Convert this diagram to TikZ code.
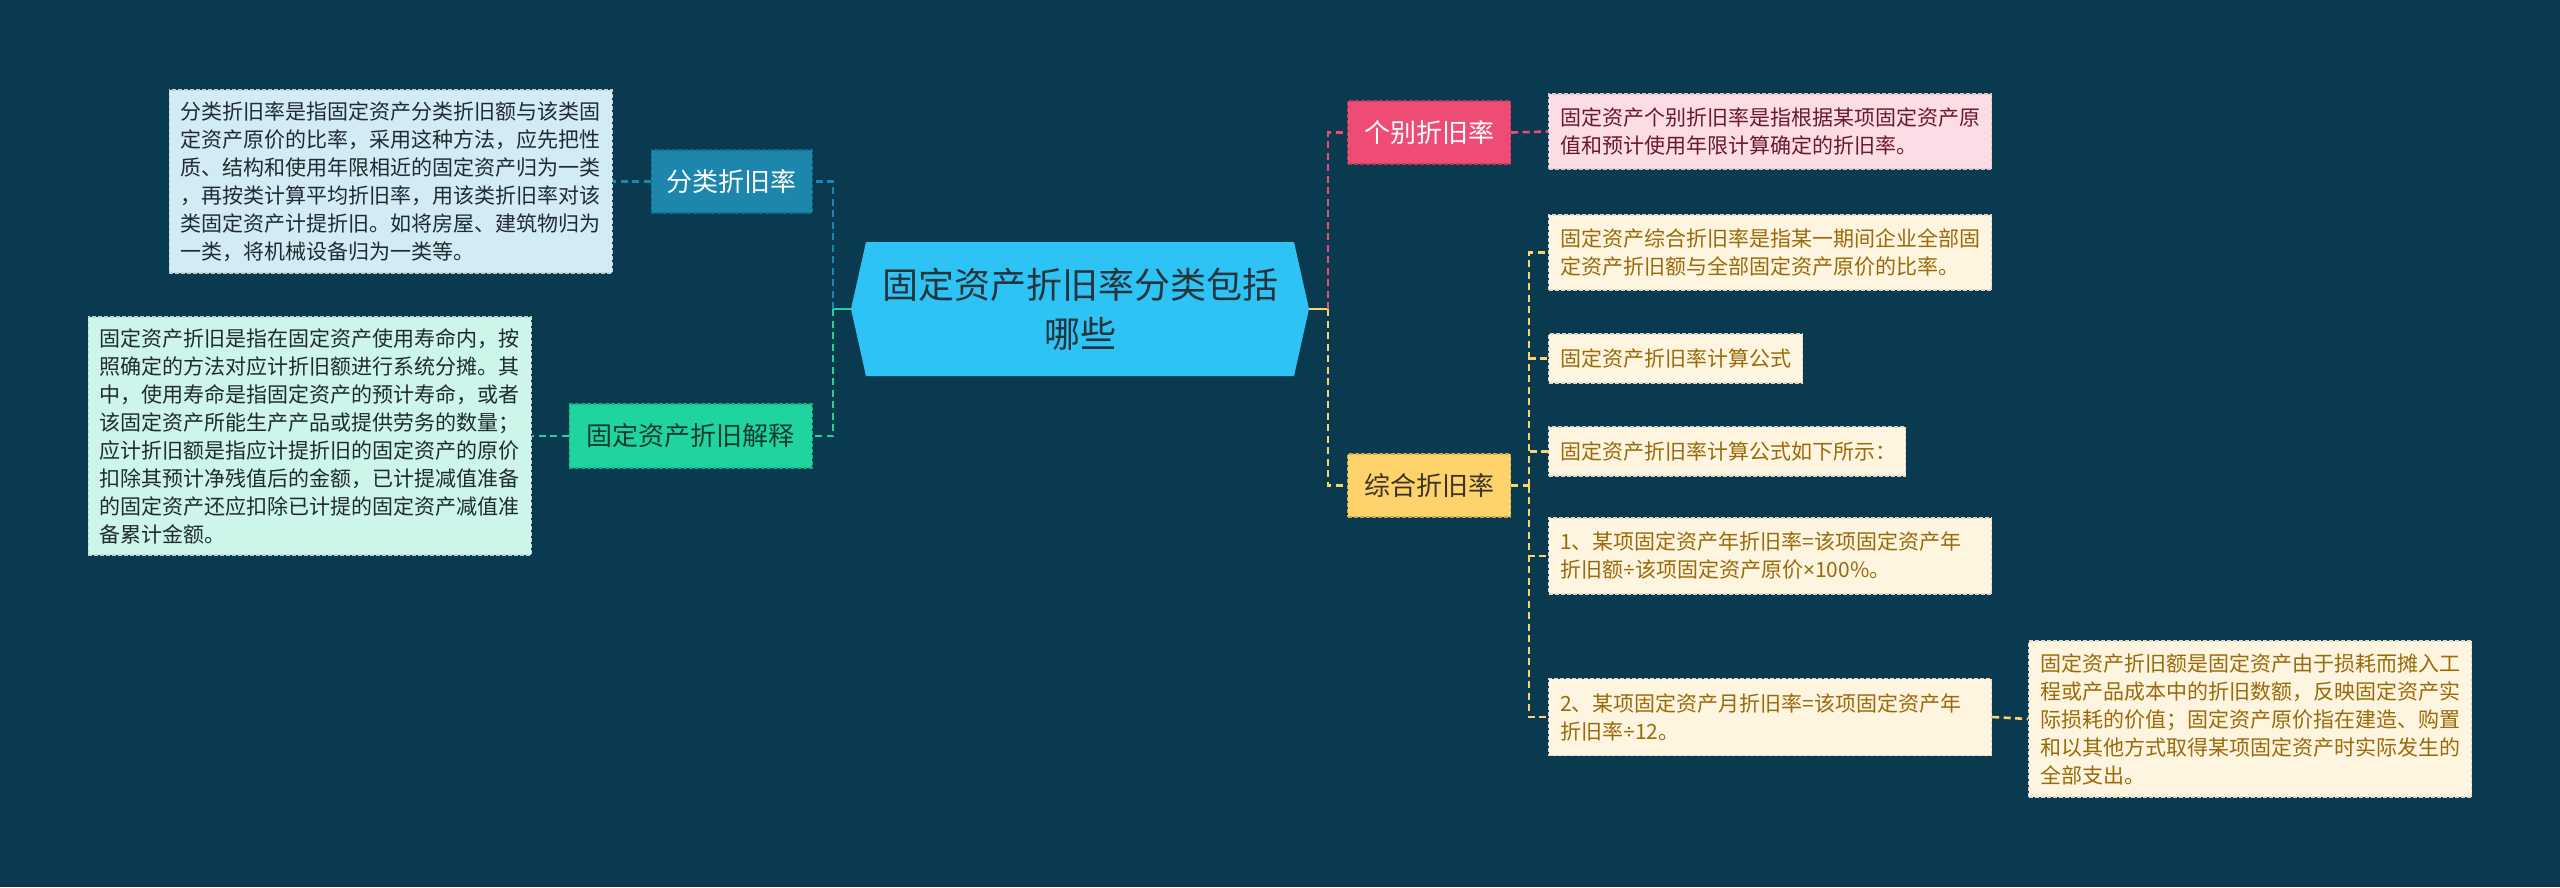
\documentclass[tikz,border=0pt]{standalone}
\usepackage{fontspec}
\setmainfont{Noto Sans CJK SC}
\newfontfamily\latinsign{Noto Sans}

\definecolor{bgnavy}{HTML}{0A3A4F}
\definecolor{hubblue}{HTML}{2DC3F4}
\definecolor{hubtext}{HTML}{24343C}
\definecolor{fenleiblue}{HTML}{1C86AC}
\definecolor{fenleipale}{HTML}{D3EBF5}
\definecolor{jieshigreen}{HTML}{1FD49F}
\definecolor{jieshipale}{HTML}{CDF5EA}
\definecolor{gebiepink}{HTML}{EE4C75}
\definecolor{gebiepale}{HTML}{FCDDE5}
\definecolor{zongheyellow}{HTML}{FFD36B}
\definecolor{zonghepale}{HTML}{FEF5E0}
\definecolor{darktext}{HTML}{1F2B30}
\definecolor{gebietext}{HTML}{6A1830}
\definecolor{zonghebrown}{HTML}{9A6A0A}
\definecolor{jieshitext}{HTML}{153A30}
\definecolor{zonghetext}{HTML}{3A3428}

\begin{document}
\begin{tikzpicture}[x=1pt, y=-1pt,
    desc/.style={fill=#1, draw=#1!75!gray, line width=1.2pt, dash pattern=on 4pt off 2pt,
      align=left, text width=420pt, inner xsep=11.5pt, inner ysep=6pt,
      font=\fontsize{21}{28}\selectfont},
    topic/.style={fill=#1, draw=#1!80!black, line width=1.2pt, dash pattern=on 4pt off 2pt,
      inner sep=0pt, font=\fontsize{26}{30}\selectfont},
    link/.style={line width=2.6pt, dash pattern=on 7pt off 4.5pt}]
  \fill[bgnavy] (0,0) rectangle (2560,887);
  \useasboundingbox (0,0) rectangle (2560,887);

  % centre
  \node[minimum width=458pt, minimum height=134pt, inner sep=0pt, align=center,
    text=hubtext, font=\fontsize{36}{49}\selectfont,
    path picture={\fill[hubblue] (path picture bounding box.west)
      -- ([xshift=15pt]path picture bounding box.north west)
      -- ([xshift=-15pt]path picture bounding box.north east)
      -- (path picture bounding box.east)
      -- ([xshift=-15pt]path picture bounding box.south east)
      -- ([xshift=15pt]path picture bounding box.south west) -- cycle;}]
    (hub) at (1080,309) {固定资产折旧率分类包括\\哪些};

  % left side
  \node[topic=fenleiblue, text=white, minimum width=161pt, minimum height=63pt, anchor=east]
    (fenlei) at (813,181.5) {分类折旧率};
  \node[topic=jieshigreen, text=jieshitext, minimum width=243pt, minimum height=64pt, anchor=east]
    (jieshi) at (813,436) {固定资产折旧解释};
  \node[desc=fenleipale, text=darktext, minimum height=183pt, anchor=east] (fenleidesc) at (613,181.5)
    {分类折旧率是指固定资产分类折旧额与该类固\\定资产原价的比率，采用这种方法，应先把性\\质、结构和使用年限相近的固定资产归为一类\\，再按类计算平均折旧率，用该类折旧率对该\\类固定资产计提折旧。如将房屋、建筑物归为\\一类，将机械设备归为一类等。};
  \node[desc=jieshipale, text=darktext, minimum height=238pt, anchor=east] (jieshidesc) at (532,436)
    {固定资产折旧是指在固定资产使用寿命内，按\\照确定的方法对应计折旧额进行系统分摊。其\\中，使用寿命是指固定资产的预计寿命，或者\\该固定资产所能生产产品或提供劳务的数量；\\应计折旧额是指应计提折旧的固定资产的原价\\扣除其预计净残值后的金额，已计提减值准备\\的固定资产还应扣除已计提的固定资产减值准\\备累计金额。};

  % right side
  \node[topic=gebiepink, text=white, minimum width=163pt, minimum height=63pt, anchor=west]
    (gebie) at (1347,132.5) {个别折旧率};
  \node[topic=zongheyellow, text=zonghetext, minimum width=163pt, minimum height=63pt, anchor=west]
    (zonghe) at (1347,485.5) {综合折旧率};
  \node[desc=gebiepale, text=gebietext, minimum height=75pt, anchor=west] (gebiedesc) at (1548,131.5)
    {固定资产个别折旧率是指根据某项固定资产原\\值和预计使用年限计算确定的折旧率。};
  \node[desc=zonghepale, text=zonghebrown, minimum height=75pt, anchor=west] (zh1) at (1548,252.5)
    {固定资产综合折旧率是指某一期间企业全部固\\定资产折旧额与全部固定资产原价的比率。};
  \node[desc=zonghepale, text=zonghebrown, text width=231pt, minimum height=49pt, anchor=west] (zh2) at (1548,358.5)
    {固定资产折旧率计算公式};
  \node[desc=zonghepale, text=zonghebrown, text width=334pt, minimum height=49pt, anchor=west] (zh3) at (1548,451.5)
    {固定资产折旧率计算公式如下所示：};
  \node[desc=zonghepale, text=zonghebrown, minimum height=76pt, anchor=west] (zh4) at (1548,556)
    {1、某项固定资产年折旧率=该项固定资产年\\折旧额{\latinsign ÷}该项固定资产原价{\latinsign ×}100\%。};
  \node[desc=zonghepale, text=zonghebrown, minimum height=77pt, anchor=west] (zh5) at (1548,717)
    {2、某项固定资产月折旧率=该项固定资产年\\折旧率{\latinsign ÷}12。};
  \node[desc=zonghepale, text=zonghebrown, minimum height=156pt, anchor=west] (zh6) at (2028,719)
    {固定资产折旧额是固定资产由于损耗而摊入工\\程或产品成本中的折旧数额，反映固定资产实\\际损耗的价值；固定资产原价指在建造、购置\\和以其他方式取得某项固定资产时实际发生的\\全部支出。};

  % connectors
  \coordinate (ltrunk) at (833,309);
  \coordinate (rtrunk) at (1328,309);
  \coordinate (ztrunk) at (1529,485.5);
  \draw[link, solid, jieshigreen] (hub.west) -- (ltrunk);
  \draw[link, fenleiblue] (ltrunk) |- (fenlei.east);
  \draw[link, jieshigreen] (ltrunk) |- (jieshi.east);
  \draw[link, fenleiblue] (fenlei.west) -- (fenleidesc.east);
  \draw[link, jieshigreen] (jieshi.west) -- (jieshidesc.east);
  \draw[link, solid, zongheyellow] (hub.east) -- (rtrunk);
  \draw[link, gebiepink] (rtrunk) |- (gebie.west);
  \draw[link, zongheyellow] (rtrunk) |- (zonghe.west);
  \draw[link, gebiepink] (gebie.east) -- (gebiedesc.west);
  \draw[link, zongheyellow] (zonghe.east) -- (ztrunk);
  \foreach \c in {zh1,zh2,zh3,zh4,zh5}
    \draw[link, zongheyellow] (ztrunk) |- (\c.west);
  \draw[link, zongheyellow] (zh5.east) -- (zh6.west);
\end{tikzpicture}
\end{document}
